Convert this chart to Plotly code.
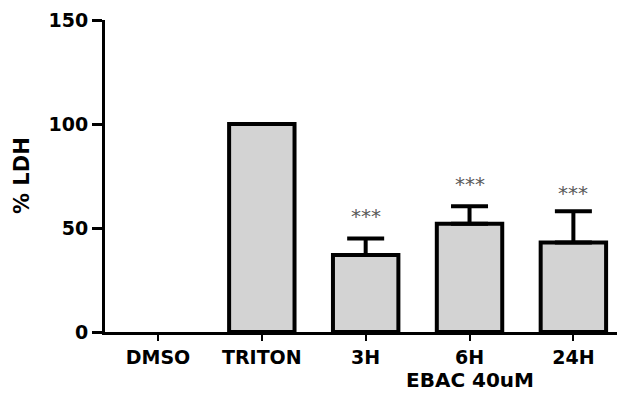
import plotly.graph_objects as go

categories = ["DMSO", "TRITON", "3H", "6H", "24H"]
values = [0, 100, 37, 52, 43]
err_plus = [0, 0, 8, 8.5, 15]
stars = ["", "", "***", "***", "***"]
star_y = [0, 0, 56, 71, 67]
y_ticks = [0, 50, 100, 150]
group_label = "EBAC 40uM"
y_label = "% LDH"

FONT = "DejaVu Sans"
xpos = list(range(len(categories)))
line_col = ["rgba(0,0,0,0)" if v == 0 else "black" for v in values]

fig = go.Figure()
fig.add_trace(go.Bar(
    x=xpos, y=values, width=0.63,
    marker=dict(color="#d3d3d3", line=dict(color=line_col, width=4)),
    showlegend=False, hoverinfo="skip",
))

# error bars only where an error exists
ex = [x for x, e in zip(xpos, err_plus) if e > 0]
ey = [v for v, e in zip(values, err_plus) if e > 0]
ee = [e for e in err_plus if e > 0]
fig.add_trace(go.Scatter(
    x=ex, y=ey, mode="markers",
    marker=dict(size=1, color="rgba(0,0,0,0)"),
    error_y=dict(type="data", symmetric=False, array=ee,
                 arrayminus=[0]*len(ee), color="black",
                 thickness=4, width=18.5),
    showlegend=False,
))

for xi, s, sy in zip(xpos, stars, star_y):
    if s:
        fig.add_annotation(x=xi, y=sy, text=s, showarrow=False,
                           font=dict(family=FONT, size=20, color="#5a5a5a"),
                           xref="x", yref="y", yanchor="middle")

fig.add_annotation(x=3, y=0, xref="x", yref="paper", yshift=-48,
                   xanchor="center", yanchor="middle",
                   text="<b>%s</b>" % group_label, showarrow=False,
                   font=dict(family=FONT, size=20, color="black"))
fig.add_annotation(x=0, y=0.5, xref="paper", yref="paper", xshift=-83,
                   xanchor="center", yanchor="middle",
                   text="<b>%s</b>" % y_label, showarrow=False, textangle=-90,
                   font=dict(family=FONT, size=21, color="black"))

fig.update_layout(
    width=617, height=403,
    margin=dict(l=105, r=0, t=20, b=71),
    plot_bgcolor="white", paper_bgcolor="white",
    xaxis=dict(range=[-0.51, 4.42], tickvals=xpos,
               ticktext=["<b>%s</b>" % c for c in categories],
               showline=True, linecolor="black", linewidth=3,
               ticks="outside", ticklen=6, tickwidth=2, tickcolor="black",
               showgrid=False, zeroline=False,
               tickfont=dict(family=FONT, size=19, color="black")),
    yaxis=dict(range=[0, 150], tickvals=y_ticks,
               ticktext=["<b>%d</b>" % v for v in y_ticks],
               showline=True, linecolor="black", linewidth=3,
               ticks="outside", ticklen=10, tickwidth=3, tickcolor="black",
               showgrid=False, zeroline=False,
               tickfont=dict(family=FONT, size=19, color="black")),
)

fig.write_html("out.html")
